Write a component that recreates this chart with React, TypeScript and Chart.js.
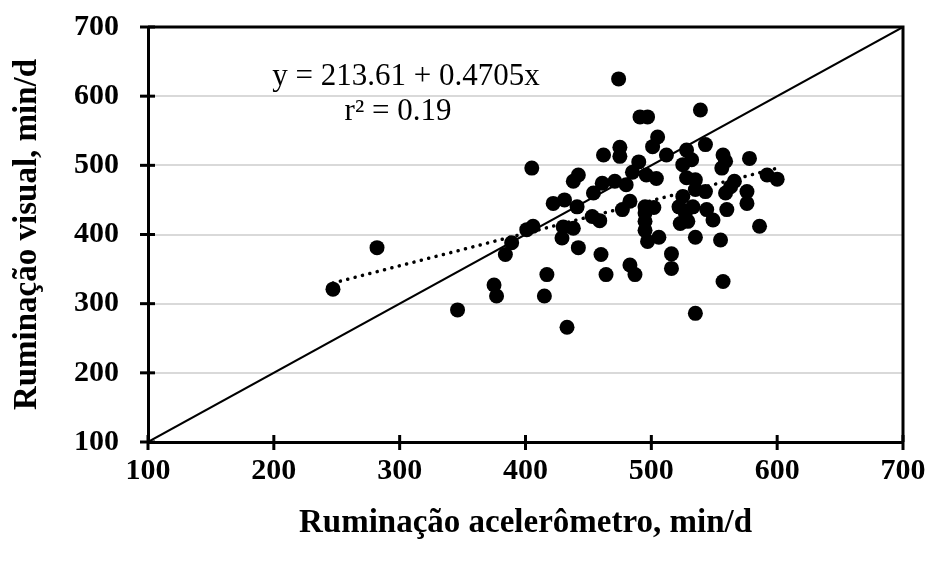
import React, { useEffect, useRef } from "react";
import { Chart, registerables } from "chart.js";

Chart.register(...registerables);

// Ruminação acelerômetro (x) vs Ruminação visual (y), min/d
const accelX = [
  247, 282, 346, 375, 377, 384, 389, 401, 406, 405, 415, 417, 433,
  422, 431, 429, 430, 438, 441, 438, 442, 442, 453, 459, 454, 460, 461, 464, 462,
  474, 475, 475, 471, 480, 477, 483, 483, 487, 485, 490, 491, 497, 496, 495, 495,
  495, 497, 495, 502, 501, 505, 504, 506, 512,
  516, 516, 522, 527, 523, 529, 533, 528, 525, 528, 535, 525, 535, 543, 535, 535,
  539, 543, 544, 549, 555, 557, 557, 559, 556, 560, 566, 563, 559, 576, 576, 578,
  586, 592, 600, 532,
];
const visualY = [
  321, 381, 291, 327, 311, 371, 388, 407, 412, 496, 311, 342, 266,
  445, 450, 395, 411, 409, 440, 477, 486, 381, 426, 420, 460, 371, 474, 342, 515,
  625, 526, 513, 477, 472, 436, 448, 356, 342, 490, 505, 570, 570, 486, 431, 419,
  406, 390, 440, 439, 527, 541, 481, 396, 515,
  372, 351, 440, 431, 416, 419, 440, 522, 501, 482, 479, 455, 465, 462, 396, 286,
  580, 530, 436, 421, 392, 332, 515, 506, 496, 436, 477, 469, 460, 462, 445, 510,
  412, 486, 480, 508,
];

// Regression shown on the chart
const trendIntercept = 213.61;
const trendSlope = 0.4705;
const trendRange = [247, 600];
const identityLine = [100, 700];

const xTitle = "Ruminação acelerômetro, min/d";
const yTitle = "Ruminação visual, min/d";
const eqLine1 = "y = 213.61 + 0.4705x";
const eqLine2 = "r² = 0.19";

const axisMin = 100;
const axisMax = 700;
const axisStep = 100;

const FONT = '"Liberation Serif", "Times New Roman", serif';

export default function App() {
  const ref = useRef<HTMLCanvasElement | null>(null);

  useEffect(() => {
    if (!ref.current) return;
    const points = accelX.map((x, i) => ({ x, y: visualY[i] }));
    const trend = trendRange.map((x) => ({ x, y: trendIntercept + trendSlope * x }));
    const identity = identityLine.map((v) => ({ x: v, y: v }));

    const decor = {
      id: "decor",
      beforeDatasetsDraw(chart: any) {
        const { ctx, chartArea } = chart;
        ctx.save();
        ctx.strokeStyle = "#000";
        ctx.lineWidth = 3;
        ctx.beginPath();
        ctx.moveTo(chartArea.left, chartArea.top);
        ctx.lineTo(chartArea.right, chartArea.top);
        ctx.lineTo(chartArea.right, chartArea.bottom);
        ctx.stroke();
        ctx.restore();
      },
      afterDraw(chart: any) {
        const { ctx, chartArea, scales } = chart;
        ctx.save();
        ctx.strokeStyle = "#000";
        ctx.lineWidth = 3;
        const xs = scales.x;
        const ys = scales.y;
        xs.ticks.forEach((t: any) => {
          const p = xs.getPixelForValue(t.value);
          ctx.beginPath();
          ctx.moveTo(p, chartArea.bottom - 7);
          ctx.lineTo(p, chartArea.bottom + 8);
          ctx.stroke();
        });
        ys.ticks.forEach((t: any) => {
          const p = ys.getPixelForValue(t.value);
          ctx.beginPath();
          ctx.moveTo(chartArea.left - 8, p);
          ctx.lineTo(chartArea.left + 7, p);
          ctx.stroke();
        });
        ctx.fillStyle = "#000";
        ctx.font = `31px ${FONT}`;
        ctx.textAlign = "center";
        ctx.textBaseline = "alphabetic";
        ctx.fillText(eqLine1, chartArea.left + 258, chartArea.top + 58);
        ctx.fillText(eqLine2, chartArea.left + 250, chartArea.top + 93);
        ctx.restore();
      },
    };

    const chart = new Chart(ref.current, {
      type: "scatter",
      data: {
        datasets: [
          {
            type: "line",
            data: identity,
            borderColor: "#000",
            borderWidth: 2,
            pointRadius: 0,
            fill: false,
          },
          {
            type: "line",
            data: trend,
            borderColor: "#000",
            borderWidth: 3.5,
            borderDash: [0.1, 7.5],
            borderCapStyle: "round",
            pointRadius: 0,
            fill: false,
          },
          {
            data: points,
            backgroundColor: "#000",
            borderColor: "#000",
            pointRadius: 7.5,
            pointBorderWidth: 0,
          },
        ],
      } as any,
      options: {
        animation: false,
        responsive: true,
        maintainAspectRatio: false,
        layout: { padding: { top: 27, right: 26, left: 0, bottom: 0 } },
        plugins: {
          legend: { display: false },
          tooltip: { enabled: false },
        },
        scales: {
          x: {
            type: "linear",
            min: axisMin,
            max: axisMax,
            afterFit: (s: any) => {
              s.height = 123;
            },
            ticks: {
              stepSize: axisStep,
              padding: 0,
              color: "#000",
              font: { family: FONT, size: 30, weight: "bold" },
            },
            grid: { display: false, drawTicks: true, tickLength: 11, tickColor: "rgba(0,0,0,0)" },
            border: { display: true, color: "#000", width: 3 },
            title: {
              display: true,
              text: xTitle,
              color: "#000",
              font: { family: FONT, size: 33, weight: "bold" },
              padding: { top: 0, bottom: 22 },
            },
          },
          y: {
            type: "linear",
            min: axisMin,
            max: axisMax,
            afterFit: (s: any) => {
              s.width = 148;
            },
            ticks: {
              stepSize: axisStep,
              padding: 0,
              color: "#000",
              font: { family: FONT, size: 30, weight: "bold" },
            },
            grid: {
              display: true,
              color: "#d9d9d9",
              lineWidth: 2,
              drawTicks: true,
              tickLength: 29,
              tickColor: "rgba(0,0,0,0)",
            },
            border: { display: true, color: "#000", width: 3 },
            title: {
              display: true,
              text: yTitle,
              color: "#000",
              font: { family: FONT, size: 33, weight: "bold" },
              padding: { top: 8, bottom: 0 },
            },
          },
        },
      } as any,
      plugins: [decor],
    });
    return () => chart.destroy();
  }, []);

  return (
    <div style={{ position: "fixed", left: 0, top: 0, width: 929, height: 565, background: "#fff" }}>
      <canvas ref={ref} />
    </div>
  );
}
